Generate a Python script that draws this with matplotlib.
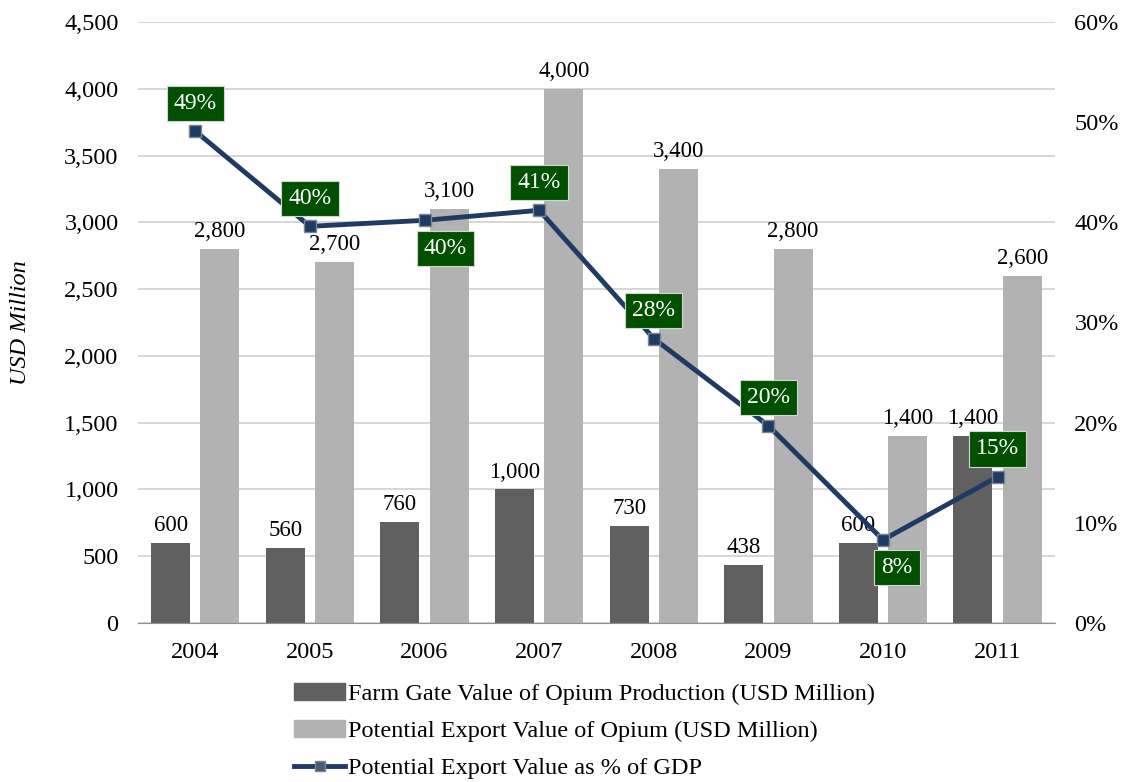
import matplotlib.pyplot as plt
from matplotlib.lines import Line2D
from matplotlib.patches import Patch
import numpy as np

plt.rcParams["font.family"] = ["Liberation Serif", "DejaVu Serif"]

years = ["2004", "2005", "2006", "2007", "2008", "2009", "2010", "2011"]
farm_gate = [600, 560, 760, 1000, 730, 438, 600, 1400]
export_value = [2800, 2700, 3100, 4000, 3400, 2800, 1400, 2600]
export_pct_gdp = [49.1, 39.6, 40.2, 41.2, 28.4, 19.7, 8.3, 14.6]
# label placement: +1 above the point, -1 below
pct_side = [1, 1, -1, 1, 1, 1, -1, 1]
pct_dx = [0, 0, 15, 0, 0, 0, 10, 0]

dark = "#606060"
light = "#b2b2b2"
navy = "#1f3b63"
green = "#005000"

fig = plt.figure(figsize=(11.25, 7.82), dpi=100)
ax = fig.add_axes([0.1227, 0.2033, 0.815, 0.7686])
x = np.arange(len(years))
w = 0.34
off = 0.215

b1 = ax.bar(x - off, farm_gate, w, color=dark, zorder=2)
b2 = ax.bar(x + off, export_value, w, color=light, zorder=2)
for rects, vals in ((b1, farm_gate), (b2, export_value)):
    for r, v in zip(rects, vals):
        ax.annotate(f"{v:,}", (r.get_x() + r.get_width() / 2, v),
                    xytext=(0, 5), textcoords="offset points",
                    ha="center", va="bottom", fontsize=16.5)

ax.set_xlim(-0.5, len(years) - 0.5)
ax.set_ylim(0, 4500)
ax.set_yticks(np.arange(0, 4501, 500))
ax.set_yticklabels([f"{v:,}" for v in range(0, 4501, 500)])
ax.set_xticks(x)
ax.set_xticklabels(years)
ax.tick_params(length=0, labelsize=17.5)
ax.tick_params(axis="x", pad=14)
ax.tick_params(axis="y", pad=14)
ax.grid(axis="y", color="#d0d0d0", linewidth=1.2, zorder=0)
ax.set_axisbelow(True)
for s in ("top", "left", "right"):
    ax.spines[s].set_visible(False)
ax.spines["bottom"].set_color("#909090")
ax.set_ylabel("USD Million", fontsize=17.5, style="italic", labelpad=24)

ax2 = ax.twinx()
ax2.plot(x, export_pct_gdp, color=navy, linewidth=3.5, marker="s",
         markersize=8, markerfacecolor=navy, markeredgecolor="#7a8495",
         markeredgewidth=1, zorder=3)
ax2.set_ylim(0, 60)
ax2.set_yticks(np.arange(0, 61, 10))
ax2.set_yticklabels([f"{v}%" for v in range(0, 61, 10)])
ax2.tick_params(length=0, labelsize=17.5, pad=14)
for s in ("top", "left", "right", "bottom"):
    ax2.spines[s].set_visible(False)

for xi, v, side, dx in zip(x, export_pct_gdp, pct_side, pct_dx):
    ax2.annotate(f"{v:.0f}%", (xi, v), xytext=(dx, 20 * side),
                 textcoords="offset points", ha="center", va="center",
                 fontsize=17, color="white", zorder=5,
                 bbox=dict(boxstyle="square,pad=0.3", fc=green, ec="#d0d8d0", lw=0.8))

handles = [
    Patch(color=dark, label="Farm Gate Value of Opium Production (USD Million)"),
    Patch(color=light, label="Potential Export Value of Opium (USD Million)"),
    Line2D([], [], color=navy, linewidth=3.5, marker="s", markersize=7,
           markerfacecolor="#4a5a75", markeredgecolor="#7a8495",
           label="Potential Export Value as % of GDP"),
]
fig.legend(handles=handles, loc="upper left", bbox_to_anchor=(0.253, 0.139),
           frameon=False, fontsize=17.5, handlelength=2.1, handletextpad=0.12,
           labelspacing=0.62, borderaxespad=0)

fig.savefig("out.png", dpi=100, facecolor="white")
